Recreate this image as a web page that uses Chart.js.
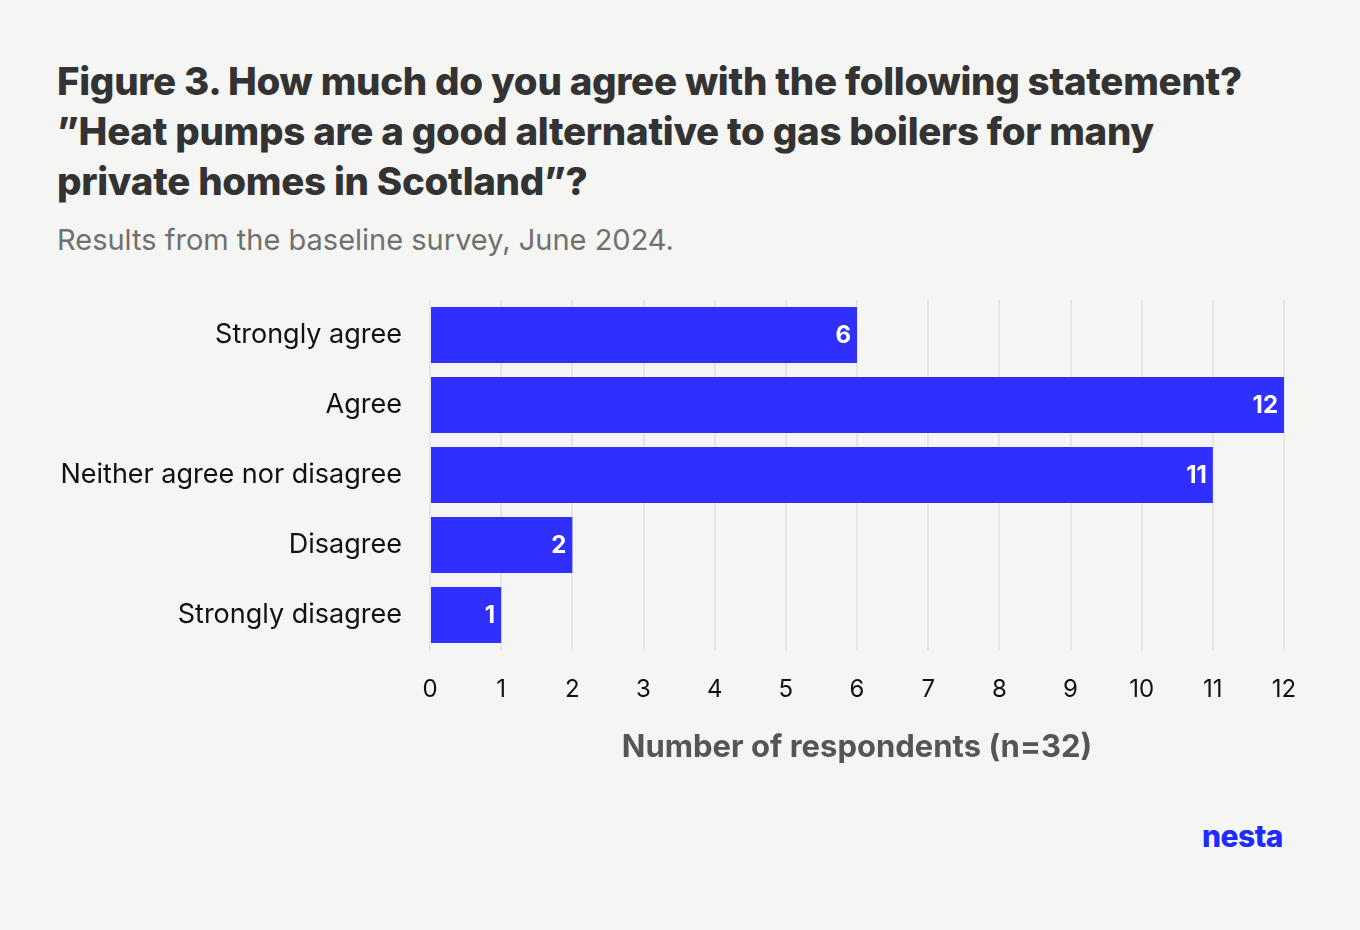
<!DOCTYPE html>
<html><head><meta charset="utf-8">
<script src="https://cdn.jsdelivr.net/npm/chart.js@4"></script>
<style>
body{margin:0;width:1360px;height:930px;background:#f5f6f3;font-family:Inter,"Noto Sans",sans-serif;position:relative;overflow:hidden}
#t{position:absolute;left:57px;top:56px;font-size:38.5px;font-weight:800;line-height:50px;color:#333;letter-spacing:-0.3px;white-space:nowrap}
#s{position:absolute;left:57px;top:222px;font-size:29px;color:#707070}
#w{position:absolute;left:0;top:257px;width:1360px;height:520px}
#logo{position:absolute;left:1202px;top:818px;font-size:30px;font-weight:800;color:#1f2bff;letter-spacing:-0.5px}
</style></head><body>
<div id="t">Figure 3. How much do you agree with the following statement?<br>”Heat pumps are a good alternative to gas boilers for many<br>private homes in Scotland”?</div>
<div id="s">Results from the baseline survey, June 2024.</div>
<div id="w"><canvas id="c" width="1360" height="520"></canvas></div>
<div id="logo">nesta</div>
<script>
const categories=["Strongly agree","Agree","Neither agree nor disagree","Disagree","Strongly disagree"];
const values=[6,12,11,2,1];
const xTicks=[0,1,2,3,4,5,6,7,8,9,10,11,12];
const labelPlugin={id:'lbl',afterDatasetsDraw(ch){const ctx=ch.ctx;const m=ch.getDatasetMeta(0);ctx.save();ctx.font='bold 24px Inter, sans-serif';ctx.fillStyle='#fff';ctx.textAlign='right';ctx.textBaseline='middle';m.data.forEach((b,i)=>{ctx.fillText(values[i],b.x-6,b.y+1);});ctx.restore();}};
new Chart(document.getElementById('c'),{type:'bar',data:{labels:categories,datasets:[{data:values,backgroundColor:'#2f2fff',barPercentage:0.8,categoryPercentage:1}]},
options:{indexAxis:'y',responsive:false,animation:false,
layout:{padding:{top:43,right:76,left:0,bottom:7}},
plugins:{legend:{display:false},tooltip:{enabled:false}},
scales:{x:{min:0,max:12,afterBuildTicks(a){a.ticks=xTicks.map(v=>({value:v}));},grid:{color:'#e6e6e4',lineWidth:2,drawTicks:false},border:{display:false},
ticks:{padding:25,color:'#111',font:{size:24,family:'Inter'}},
title:{display:true,text:'Number of respondents (n=32)',color:'#555',font:{size:31,weight:'bold',family:'Inter'},padding:{top:0}}},
y:{afterFit(s){s.width=430;},grid:{display:false},border:{display:false},ticks:{padding:20,color:'#111',font:{size:27,family:'Inter'}}}}},
plugins:[labelPlugin]});
</script></body></html>
